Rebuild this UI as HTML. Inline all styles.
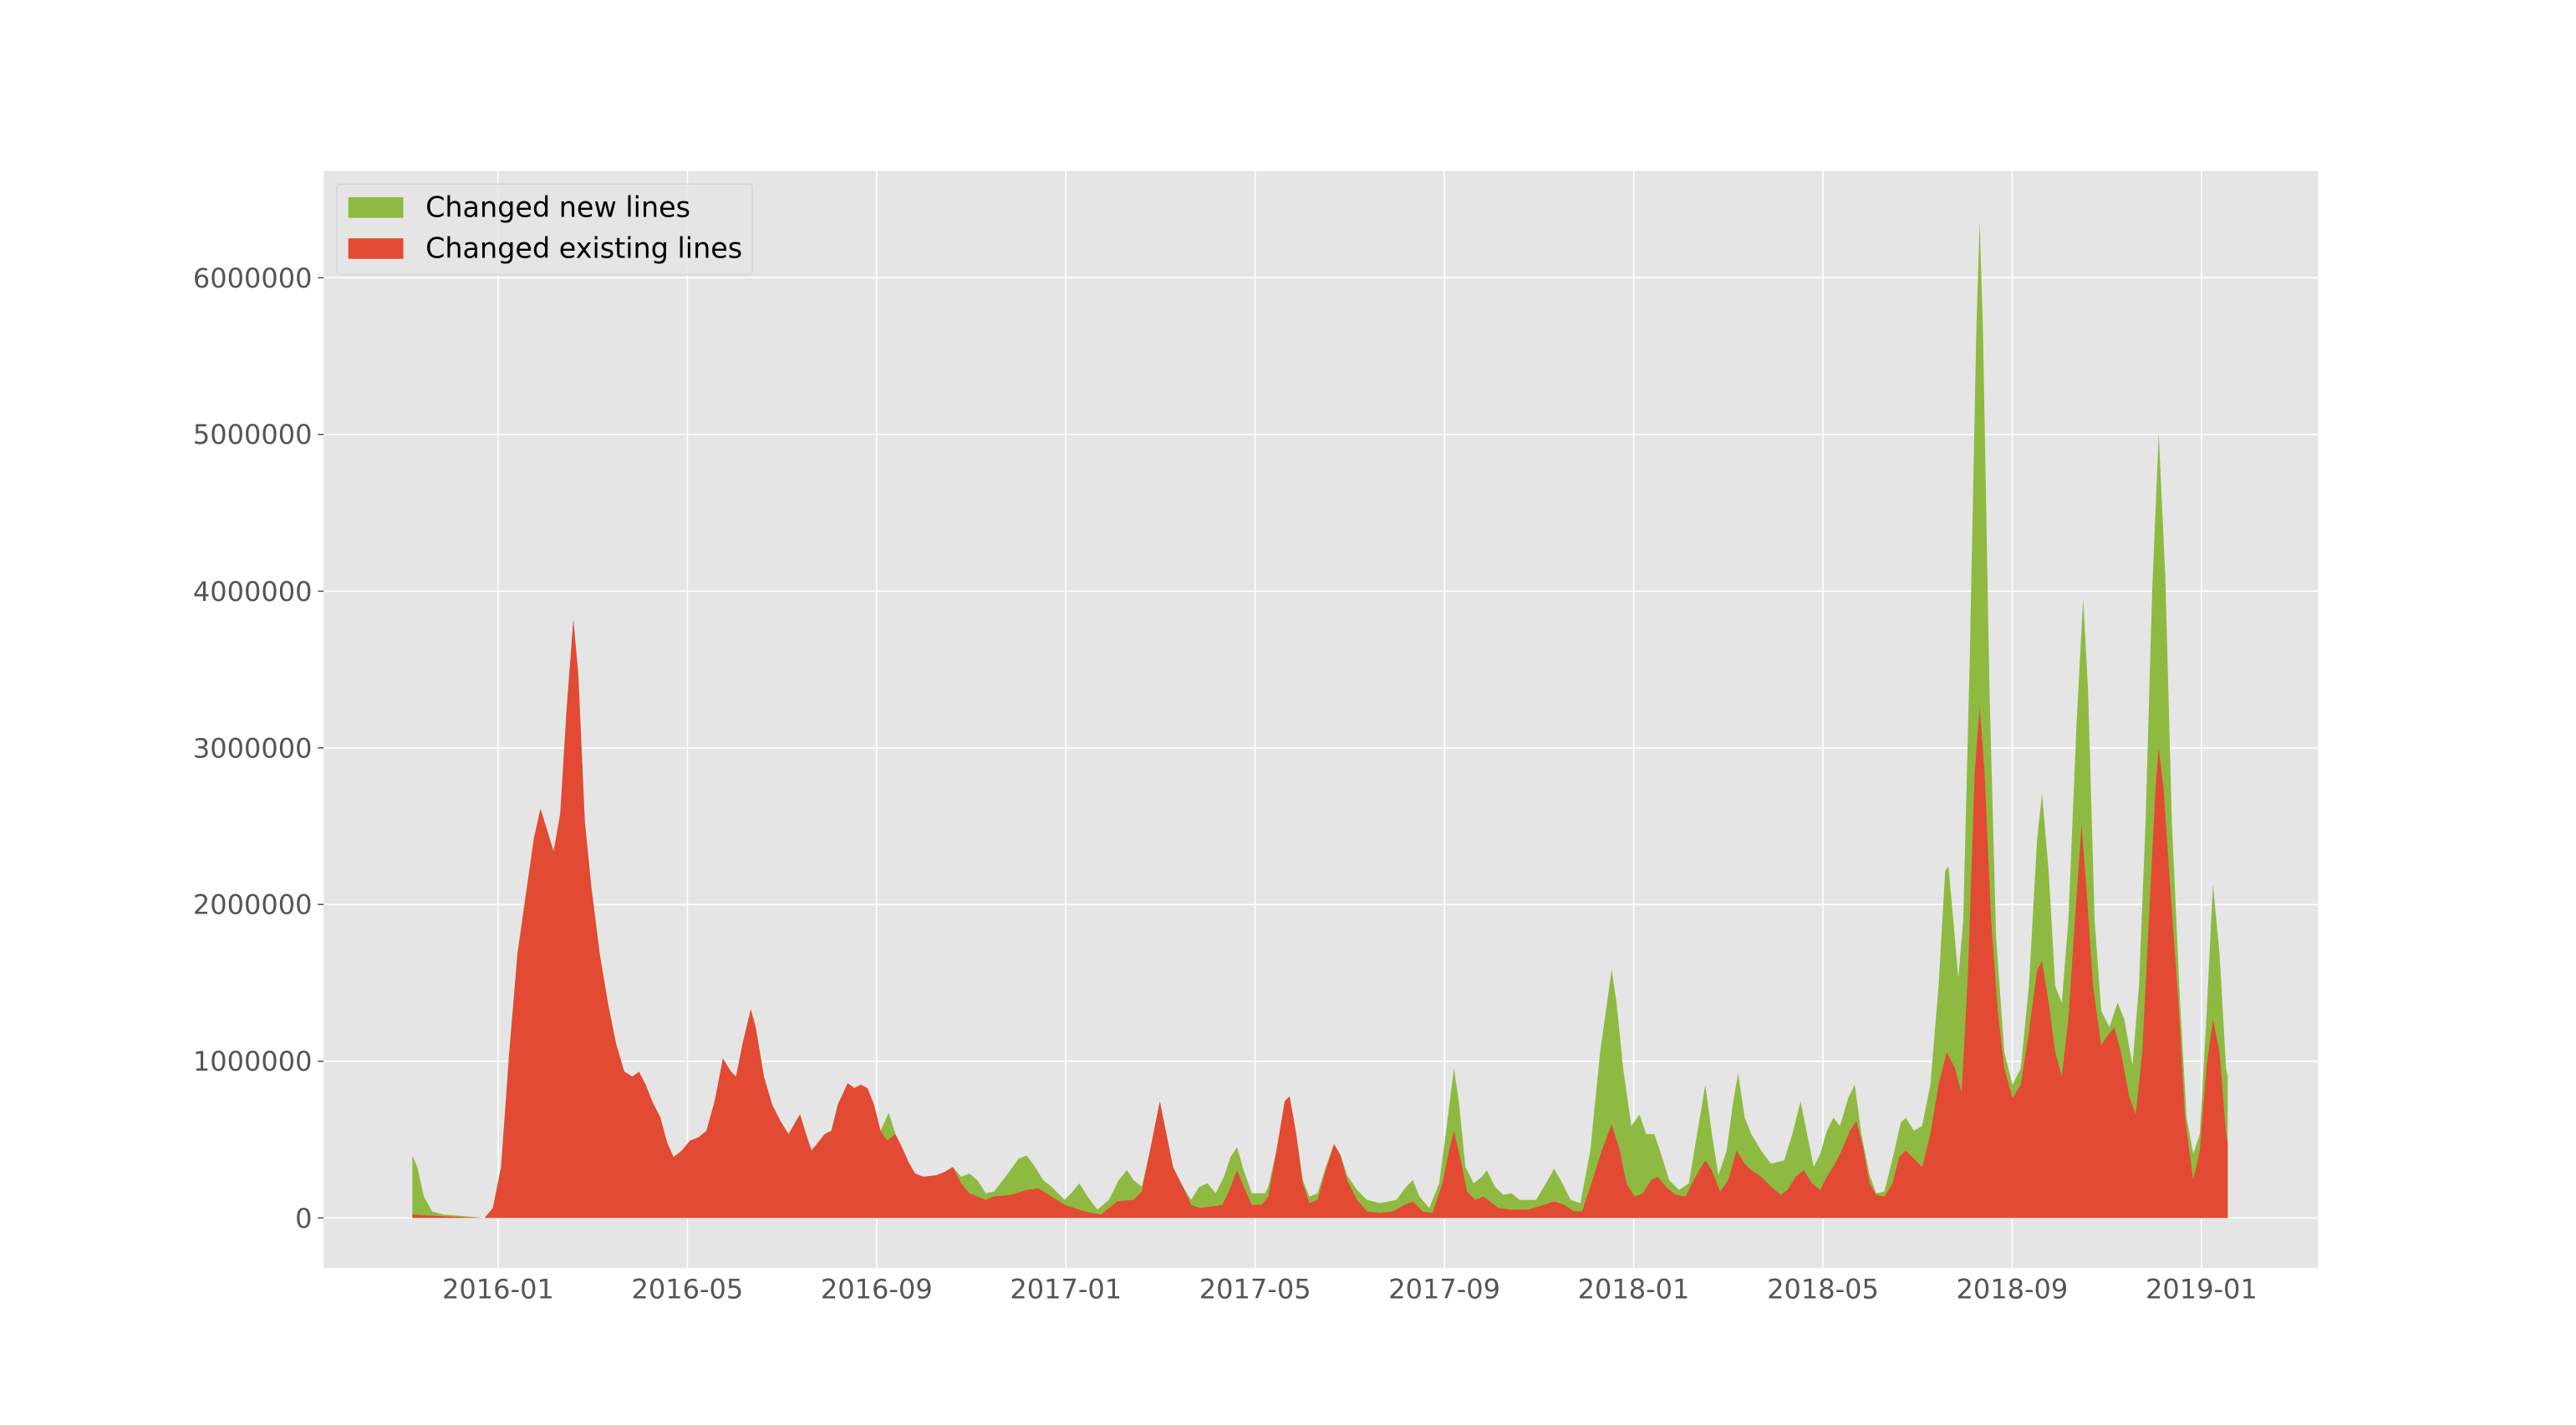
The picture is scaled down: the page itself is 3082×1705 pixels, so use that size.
<!DOCTYPE html>
<html><head><meta charset="utf-8"><style>
html,body{margin:0;padding:0;background:#fff;}
svg{display:block;}
text{font-family:"DejaVu Sans","Liberation Sans",sans-serif;}
</style></head><body>
<svg width="3082" height="1705" viewBox="0 0 1568 867" preserveAspectRatio="none" xmlns="http://www.w3.org/2000/svg">
<rect x="0" y="0" width="1568" height="867" fill="#fff"/>
<rect x="197" y="104" width="1214" height="667.5" fill="#e5e5e5"/>
<g stroke="#fff" stroke-width="0.8">
<line x1="197" x2="1411" y1="741" y2="741"/>
<line x1="197" x2="1411" y1="645.7" y2="645.7"/>
<line x1="197" x2="1411" y1="550.3" y2="550.3"/>
<line x1="197" x2="1411" y1="455" y2="455"/>
<line x1="197" x2="1411" y1="359.7" y2="359.7"/>
<line x1="197" x2="1411" y1="264.3" y2="264.3"/>
<line x1="197" x2="1411" y1="169" y2="169"/>
<line y1="104" y2="771.5" x1="303.2" x2="303.2"/>
<line y1="104" y2="771.5" x1="418.4" x2="418.4"/>
<line y1="104" y2="771.5" x1="533.6" x2="533.6"/>
<line y1="104" y2="771.5" x1="648.8" x2="648.8"/>
<line y1="104" y2="771.5" x1="764" x2="764"/>
<line y1="104" y2="771.5" x1="879.2" x2="879.2"/>
<line y1="104" y2="771.5" x1="994.4" x2="994.4"/>
<line y1="104" y2="771.5" x1="1109.6" x2="1109.6"/>
<line y1="104" y2="771.5" x1="1224.8" x2="1224.8"/>
<line y1="104" y2="771.5" x1="1340" x2="1340"/>
</g>
<polygon fill="#8eba42" points="251,741 251,703 254,710 258,728 263,737 270,739 295,741 300,735 305,710 310,640 315,580 320,545 325,510 329,492 333,505 337,518 341,495 345,430 349,377 352,410 356,500 360,540 365,580 370,610 375,635 380,652 385,655 389,652 393,660 397,670 402,680 406,695 410,704 415,700 420,694 425,692 430,688 435,670 440,644 445,652 448,655 452,635 457,614 460,625 465,655 470,672 475,682 480,690 484,683 487,678 490,688 494,700 498,695 502,690 506,688 510,672 516,659 520,662 524,660 528,662 532,672 536,688 541,677 545,690 549,698 553,707 557,714 562,716 570,715 575,713 580,710 585,716 590,714 595,718 600,726 605,725 612,716 620,705 625,703 630,710 635,718 640,722 648,730 652,726 657,720 662,728 668,736 675,730 681,718 686,712 690,718 695,722 700,700 706,670 710,690 714,710 720,722 725,730 730,722 735,720 740,726 745,716 749,704 753,698 757,712 762,726 770,726 772,722 777,700 782,670 785,667 789,690 793,718 797,728 802,726 807,710 812,696 816,703 820,715 826,724 832,730 840,732 850,730 856,722 860,718 864,728 870,735 876,720 880,690 885,650 888,670 892,710 897,720 902,716 905,712 910,722 915,727 920,726 925,730 935,730 941,720 946,711 951,720 956,730 962,732 968,700 974,640 981,590 984,610 988,650 993,685 998,678 1002,690 1007,690 1012,705 1016,718 1022,724 1028,720 1033,690 1038,660 1042,690 1046,715 1051,700 1055,670 1058,653 1062,680 1066,690 1072,700 1078,708 1086,706 1091,690 1096,670 1100,690 1104,710 1108,702 1112,688 1116,680 1120,685 1125,668 1129,660 1133,690 1138,715 1142,726 1147,725 1152,705 1157,683 1160,680 1165,688 1170,685 1175,660 1180,600 1184,530 1186,527 1189,560 1192,595 1195,560 1199,400 1203,200 1205,135 1207,200 1211,420 1215,570 1220,640 1225,660 1230,650 1235,600 1240,510 1243,483 1247,530 1251,600 1255,610 1259,560 1264,440 1268,364 1271,420 1275,560 1279,615 1284,625 1289,610 1293,620 1298,648 1302,600 1306,500 1310,360 1314,264 1318,350 1322,500 1327,610 1331,680 1335,702 1339,690 1343,620 1347,538 1351,580 1355,650 1356,655 1356,741"/>
<polygon fill="#e24a33" points="251,741 251,739 270,740 295,741 300,735 305,710 310,640 315,580 320,545 325,510 329,492 333,505 337,518 341,495 345,430 349,377 352,410 356,500 360,540 365,580 370,610 375,635 380,652 385,655 389,652 393,660 397,670 402,680 406,695 410,704 415,700 420,694 425,692 430,688 435,670 440,644 445,652 448,655 452,635 457,614 460,625 465,655 470,672 475,682 480,690 484,683 487,678 490,688 494,700 498,695 502,690 506,688 510,672 516,659 520,662 524,660 528,662 532,672 536,688 540,694 545,690 549,698 553,707 557,714 562,716 570,715 575,713 580,710 585,720 590,726 600,730 605,728 615,727 625,724 632,723 640,728 648,733 660,737 670,739 680,731 690,730 695,725 700,700 706,670 710,690 714,710 720,722 725,733 730,735 738,734 744,733 748,725 753,712 757,722 762,733 768,733 772,728 777,700 782,670 785,667 789,690 793,720 797,732 802,730 807,712 812,696 816,703 820,718 826,730 832,737 840,738 848,737 855,733 860,731 866,737 872,738 878,720 882,700 885,688 889,705 893,725 898,730 903,728 907,731 912,735 920,736 930,736 940,733 946,731 952,733 958,737 963,737 968,722 975,700 981,684 986,700 990,720 995,728 1000,726 1005,718 1009,716 1014,722 1020,727 1026,728 1032,716 1038,706 1042,712 1047,725 1052,718 1057,700 1062,708 1066,712 1072,716 1078,722 1084,727 1088,724 1093,716 1098,712 1103,720 1108,724 1112,716 1117,708 1121,700 1126,688 1130,682 1134,698 1138,720 1142,727 1147,728 1152,720 1156,704 1160,700 1165,705 1170,710 1175,690 1180,660 1185,640 1190,650 1194,665 1198,590 1202,470 1205,430 1208,470 1212,560 1216,615 1220,650 1225,668 1230,660 1235,628 1240,590 1243,585 1247,610 1251,640 1255,655 1259,620 1263,560 1267,502 1270,540 1274,600 1279,636 1283,630 1287,625 1291,640 1296,667 1300,678 1304,640 1308,560 1312,480 1314,455 1317,480 1321,540 1326,610 1330,680 1335,718 1339,700 1343,650 1347,620 1351,640 1355,690 1356,695 1356,741"/>
<g stroke="#555" stroke-width="0.8">
<line x1="193.5" x2="197" y1="741" y2="741"/>
<line x1="193.5" x2="197" y1="645.7" y2="645.7"/>
<line x1="193.5" x2="197" y1="550.3" y2="550.3"/>
<line x1="193.5" x2="197" y1="455" y2="455"/>
<line x1="193.5" x2="197" y1="359.7" y2="359.7"/>
<line x1="193.5" x2="197" y1="264.3" y2="264.3"/>
<line x1="193.5" x2="197" y1="169" y2="169"/>
</g>
<g fill="#555" font-size="16.3" text-anchor="end">
<text x="190" y="747">0</text>
<text x="190" y="651.5">1000000</text>
<text x="190" y="556">2000000</text>
<text x="190" y="461">3000000</text>
<text x="190" y="365.5">4000000</text>
<text x="190" y="270">5000000</text>
<text x="190" y="175">6000000</text>
</g>
<g fill="#555" font-size="16.3" text-anchor="middle">
<text x="303.2" y="790">2016-01</text>
<text x="418.4" y="790">2016-05</text>
<text x="533.6" y="790">2016-09</text>
<text x="648.8" y="790">2017-01</text>
<text x="764" y="790">2017-05</text>
<text x="879.2" y="790">2017-09</text>
<text x="994.4" y="790">2018-01</text>
<text x="1109.6" y="790">2018-05</text>
<text x="1224.8" y="790">2018-09</text>
<text x="1340" y="790">2019-01</text>
</g>
<rect x="205" y="112" width="253" height="55" rx="2" fill="#e5e5e5" fill-opacity="0.8" stroke="#d6d6d6" stroke-width="0.8"/>
<rect x="212" y="120" width="33.5" height="12.5" fill="#8eba42"/>
<rect x="212" y="145" width="33.5" height="12.5" fill="#e24a33"/>
<g fill="#000" font-size="17">
<text x="259" y="132">Changed new lines</text>
<text x="259" y="157">Changed existing lines</text>
</g>
</svg>
</body></html>
